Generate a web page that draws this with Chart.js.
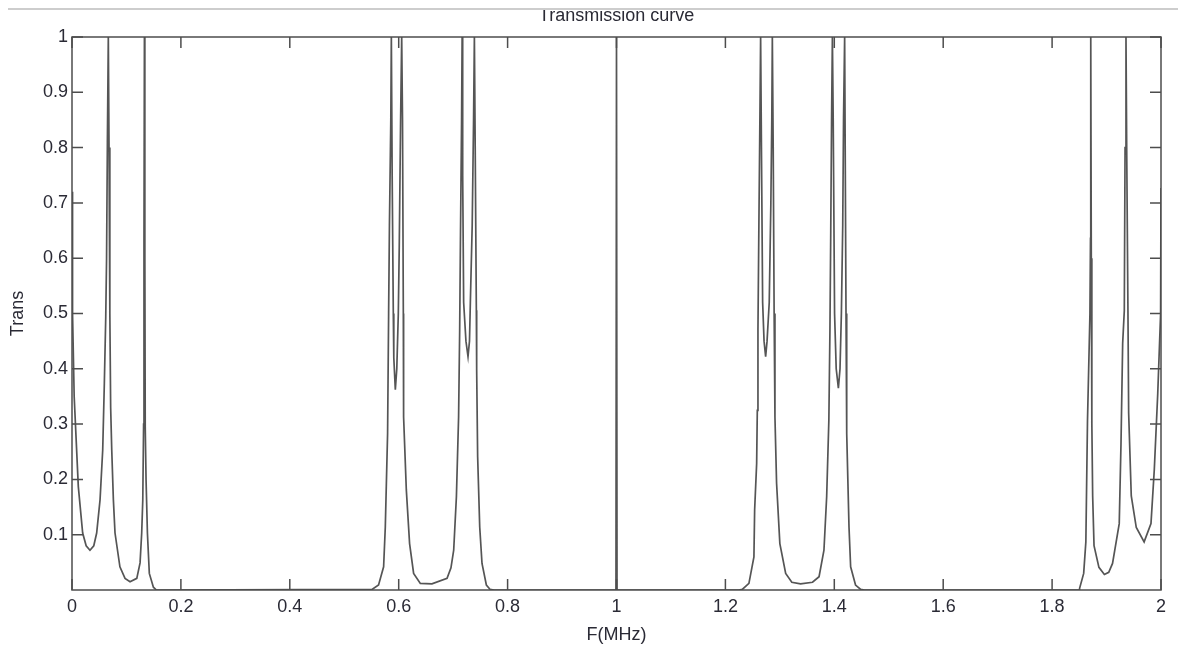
<!DOCTYPE html>
<html>
<head>
<meta charset="utf-8">
<script src="https://cdn.jsdelivr.net/npm/chart.js@4"></script>
<style>
  body { margin: 0; background: #fff; }
  #wrap { position: relative; width: 1178px; height: 653px; }
  #topcut { position: absolute; left: 0; top: 0; width: 1178px; height: 9px; background: #fff; }
  #topline { position: absolute; left: 8px; top: 8px; width: 1170px; height: 2px; background: #cdcdcd; }
</style>
</head>
<body>
<div id="wrap">
  <canvas id="grafica"></canvas>
  <div id="topcut"></div>
  <div id="topline"></div>
</div>
<script>
const freqMHz = [
  0, 0.0005, 0.0015, 0.004, 0.0116, 0.0196, 0.026, 0.033, 0.040, 0.0453, 0.0515, 0.0564, 0.0594, 0.062, 0.0635, 0.065, 0.0667,
  0.068, 0.0695, 0.071, 0.073, 0.076, 0.079, 0.088, 0.0974, 0.1066, 0.119, 0.125, 0.128, 0.130, 0.1315, 0.1322, 0.133,
  0.1338, 0.1345, 0.136, 0.1385, 0.142, 0.1495, 0.155,
  0.551, 0.563, 0.5723, 0.5754, 0.5796, 0.5815, 0.583, 0.5855, 0.5865, 0.588, 0.5901, 0.591, 0.5938, 0.5965, 0.5993, 0.601,
  0.6035, 0.6055, 0.607, 0.6085, 0.609, 0.614, 0.620, 0.6274, 0.6397, 0.661, 0.6888, 0.696, 0.701, 0.706, 0.710, 0.712,
  0.7135, 0.7155, 0.7165, 0.7175, 0.7193, 0.7235, 0.7273, 0.730, 0.7316, 0.735, 0.7375, 0.739, 0.7405, 0.7426, 0.7432,
  0.745, 0.7488, 0.753, 0.761, 0.768, 0.775,
  0.999, 1.0, 1.001,
  1.225, 1.231, 1.2432, 1.2524, 1.2537, 1.2574, 1.2586, 1.2598, 1.2615, 1.2635, 1.2647, 1.2662, 1.2684, 1.271, 1.2739,
  1.2765, 1.2805, 1.2835, 1.2852, 1.2862, 1.2878, 1.2895, 1.291, 1.294, 1.300, 1.3107, 1.322, 1.338, 1.360, 1.372, 1.381,
  1.386, 1.390, 1.392, 1.3935, 1.395, 1.3965, 1.398, 1.4005, 1.4035, 1.4075, 1.4105, 1.413, 1.4155, 1.417, 1.419, 1.420,
  1.4215, 1.4228, 1.427, 1.430, 1.439, 1.4485, 1.455,
  1.850, 1.8505, 1.858, 1.862, 1.865, 1.8695, 1.8705, 1.871, 1.872, 1.873, 1.8745, 1.877, 1.886, 1.896, 1.904, 1.911,
  1.9233, 1.9265, 1.9296, 1.9326, 1.934, 1.9357, 1.937, 1.9393, 1.9406, 1.9454, 1.9546, 1.969, 1.9816, 1.9877, 1.994,
  1.9993, 2.0
];
const trans = [
  0.72, 0.6, 0.5, 0.35, 0.187, 0.103, 0.08, 0.072, 0.08, 0.103, 0.163, 0.253, 0.374, 0.494, 0.6, 0.81, 1.0,
  0.8, 0.5, 0.33, 0.253, 0.163, 0.103, 0.042, 0.021, 0.015, 0.021, 0.049, 0.103, 0.163, 0.3, 0.63, 1.0,
  0.6, 0.295, 0.2, 0.103, 0.03, 0.005, 0,
  0.001, 0.009, 0.042, 0.114, 0.283, 0.5, 0.66, 0.85, 1.0, 0.75, 0.5, 0.42, 0.362, 0.40, 0.5, 0.62,
  0.85, 1.0, 0.85, 0.5, 0.313, 0.181, 0.084, 0.03, 0.012, 0.011, 0.021, 0.04, 0.072, 0.169, 0.313, 0.47,
  0.645, 0.85, 1.0, 0.75, 0.52, 0.45, 0.422, 0.45, 0.52, 0.66, 0.85, 1.0, 0.8, 0.506, 0.398,
  0.241, 0.114, 0.048, 0.009, 0.001, 0,
  0, 1.0, 0,
  0, 0.001, 0.012, 0.060, 0.145, 0.229, 0.325, 0.47, 0.66, 0.868, 1.0, 0.8, 0.52, 0.45, 0.422,
  0.45, 0.52, 0.7, 0.85, 1.0, 0.8, 0.5, 0.313, 0.193, 0.084, 0.030, 0.014, 0.011, 0.014, 0.024, 0.072,
  0.169, 0.307, 0.47, 0.65, 0.85, 1.0, 0.85, 0.5, 0.40, 0.365, 0.40, 0.5, 0.66, 0.855, 1.0, 0.8,
  0.5, 0.283, 0.114, 0.042, 0.009, 0.001, 0,
  0, 0.003, 0.03, 0.087, 0.306, 0.5, 0.636, 1.0, 0.6, 0.3, 0.17, 0.08, 0.041, 0.028, 0.032, 0.048,
  0.12, 0.263, 0.446, 0.505, 0.8, 1.0, 0.8, 0.505, 0.32, 0.17, 0.113, 0.087, 0.12, 0.218, 0.355,
  0.5, 0.727
];
const xTicks = [0, 0.2, 0.4, 0.6, 0.8, 1, 1.2, 1.4, 1.6, 1.8, 2];
const yTicks = [0, 0.1, 0.2, 0.3, 0.4, 0.5, 0.6, 0.7, 0.8, 0.9, 1];

const fuente = { family: 'Liberation Sans, Arial, sans-serif', size: 18 };
const colorTexto = '#2a2a35';

// marco y ticks hacia dentro, como en matlab
const marcoMatlab = {
  id: 'marcoMatlab',
  afterDatasetsDraw(chart) {
    const { ctx, chartArea: a, scales } = chart;
    const largo = 11;
    ctx.save();
    ctx.strokeStyle = '#4d4d4d';
    ctx.lineWidth = 1.5;
    ctx.strokeRect(a.left, a.top, a.right - a.left, a.bottom - a.top);
    ctx.beginPath();
    xTicks.forEach(v => {
      const px = scales.x.getPixelForValue(v);
      ctx.moveTo(px, a.bottom); ctx.lineTo(px, a.bottom - largo);
      ctx.moveTo(px, a.top); ctx.lineTo(px, a.top + largo);
    });
    yTicks.filter(v => v > 0).forEach(v => {
      const py = scales.y.getPixelForValue(v);
      ctx.moveTo(a.left, py); ctx.lineTo(a.left + largo, py);
      ctx.moveTo(a.right, py); ctx.lineTo(a.right - largo, py);
    });
    ctx.stroke();
    ctx.restore();
  }
};

const ctx = document.getElementById('grafica');
new Chart(ctx, {
  type: 'scatter',
  data: {
    datasets: [{
      label: 'Trans',
      data: freqMHz.map((f, i) => ({ x: f, y: trans[i] })),
      showLine: true,
      borderColor: '#555555',
      borderWidth: 1.7,
      pointRadius: 0,
      tension: 0
    }]
  },
  options: {
    responsive: true,
    maintainAspectRatio: false,
    animation: false,
    layout: { padding: { left: 0, right: 17, top: 0, bottom: 0 } },
    plugins: {
      legend: { display: false },
      tooltip: { enabled: false },
      title: {
        display: true,
        text: 'Transmission curve',
        fullSize: false,
        color: colorTexto,
        font: { ...fuente, weight: 'normal' },
        padding: { top: 5, bottom: 10.4 }
      }
    },
    scales: {
      x: {
        type: 'linear',
        min: 0,
        max: 2,
        afterBuildTicks: s => { s.ticks = xTicks.map(v => ({ value: v })); },
        afterFit: s => { s.height = 63; },
        grid: { display: false, drawTicks: false },
        border: { display: false },
        ticks: {
          color: colorTexto,
          font: fuente,
          padding: 6,
          maxRotation: 0,
          callback: v => String(Math.round(v * 10) / 10)
        },
        title: {
          display: true,
          text: 'F(MHz)',
          color: colorTexto,
          font: fuente,
          padding: { top: 0, bottom: 7 }
        }
      },
      y: {
        min: 0,
        max: 1,
        afterBuildTicks: s => { s.ticks = yTicks.map(v => ({ value: v })); },
        afterFit: s => { s.width = 72; },
        grid: { display: false, drawTicks: false },
        border: { display: false },
        ticks: {
          color: colorTexto,
          font: fuente,
          padding: 4,
          callback: v => v === 0 ? '' : String(Math.round(v * 10) / 10)
        },
        title: {
          display: true,
          text: 'Trans',
          color: colorTexto,
          font: fuente,
          padding: { top: 7, bottom: 0 }
        }
      }
    }
  },
  plugins: [marcoMatlab]
});
</script>
</body>
</html>
